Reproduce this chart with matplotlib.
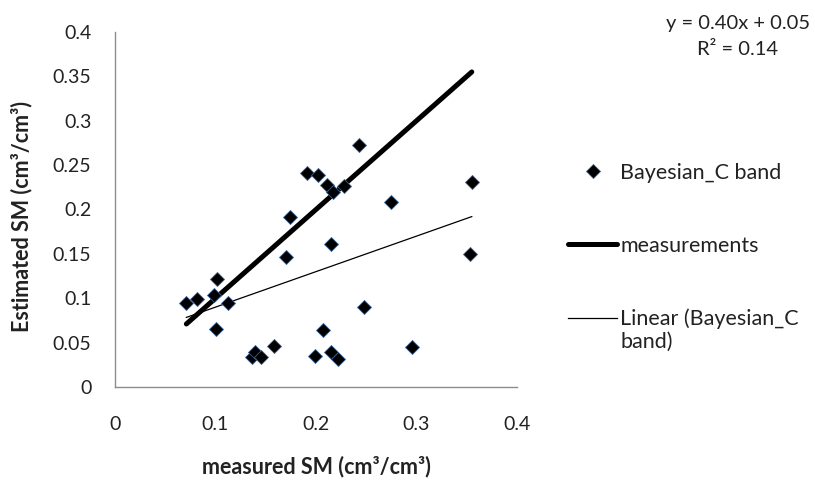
import matplotlib
matplotlib.use('Agg')
import matplotlib.pyplot as plt
import numpy as np

# DATA
measured = [0.071, 0.082, 0.101, 0.099, 0.112, 0.100, 0.174, 0.170, 0.191, 0.202,
            0.211, 0.228, 0.217, 0.215, 0.275, 0.248, 0.207, 0.158, 0.136, 0.139,
            0.145, 0.199, 0.215, 0.222, 0.296, 0.243, 0.355, 0.353]
estimated = [0.095, 0.099, 0.122, 0.104, 0.095, 0.065, 0.191, 0.146, 0.241, 0.239,
             0.228, 0.226, 0.220, 0.161, 0.209, 0.090, 0.064, 0.046, 0.034, 0.039,
             0.034, 0.035, 0.039, 0.031, 0.045, 0.273, 0.231, 0.150]
slope = 0.40
intercept = 0.05
r2 = 0.14

plt.rcParams['font.family'] = ['Lato', 'DejaVu Sans']
fs = 14
txtc = '#222222'

fig = plt.figure(figsize=(8.15, 4.84), dpi=100)
ax = fig.add_axes([115/815, 1-387/484, 402/815, 355/484])

# 1:1 LINE OF MEASUREMENTS
xs = np.array([min(measured), max(measured)])
ax.plot(xs, xs, color='black', lw=3.6, solid_capstyle='round', label='measurements', zorder=2)

# LINEAR TRENDLINE
ax.plot(xs, slope*xs + intercept, color='black', lw=0.9, label='Linear (Bayesian_C', zorder=2)

# SCATTER POINTS
ax.plot(measured, estimated, 'D', ms=7.2, mfc='black', mec='#3a5f8f', mew=0.6,
        ls='none', label='Bayesian_C band', zorder=3)

ax.set_xlim(0, 0.4)
ax.set_ylim(0, 0.4)
ax.set_xticks([0, 0.1, 0.2, 0.3, 0.4])
ax.set_xticklabels(['0', '0.1', '0.2', '0.3', '0.4'])
ax.set_yticks(np.arange(0, 0.41, 0.05))
ax.set_yticklabels(['0', '0.05', '0.1', '0.15', '0.2', '0.25', '0.3', '0.35', '0.4'])
ax.tick_params(length=0, labelsize=fs, colors=txtc)
ax.tick_params(axis='x', pad=21)
ax.tick_params(axis='y', pad=17)
for s in ['top', 'right']:
    ax.spines[s].set_visible(False)
for s in ['left', 'bottom']:
    ax.spines[s].set_color('#8c8c8c')
    ax.spines[s].set_linewidth(1.0)

fig.text(316/815, 1-467/484, 'measured SM (cm³/cm³)', ha='center', va='center',
         fontsize=15.5, fontweight='bold', color=txtc)
fig.text(22/815, 1-217/484, 'Estimated SM (cm³/cm³)', ha='center', va='center',
         rotation=90, fontsize=15.5, fontweight='bold', color=txtc)

fig.text(738/815, 1-36.5/484, 'y = %.2fx + %.2f\nR² = %.2f' % (slope, intercept, r2),
         ha='center', va='center', multialignment='center', fontsize=14.5,
         color=txtc, linespacing=1.64)

# LEGEND (SECOND LINE OF THE TRENDLINE LABEL ADDED BELOW)
handles, labels = ax.get_legend_handles_labels()
order = [2, 0, 1]
leg = fig.legend([handles[i] for i in order], [labels[i] for i in order],
                 loc='upper left', bbox_to_anchor=(568/815, 1-163/484),
                 frameon=False, fontsize=15.5, handlelength=2.28, handletextpad=0.14,
                 labelspacing=2.45, borderpad=0, borderaxespad=0)
for t in leg.get_texts():
    t.set_color(txtc)
fig.text(620/815, 1-342/484, 'band)', ha='left', va='center', fontsize=15.5, color=txtc)

fig.savefig('out.png', dpi=100)
